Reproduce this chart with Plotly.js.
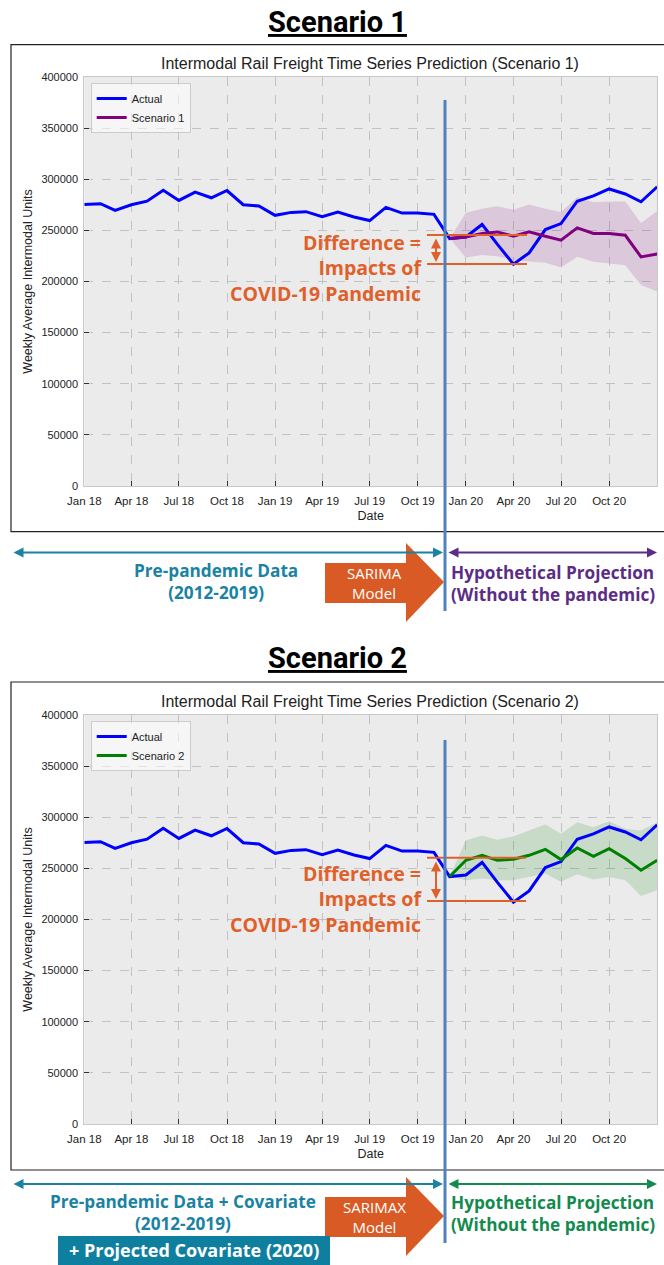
<!DOCTYPE html>
<html>
<head>
<meta charset="utf-8">
<script src="https://cdn.plot.ly/plotly-3.0.1.min.js"></script>
<style>
  html, body { margin: 0; padding: 0; background: #ffffff; }
  #chart { width: 664px; height: 1265px; }
</style>
</head>
<body>
<div id="chart"></div>
<script>
// ---------------- DATA ----------------
const actualDates = [
  '2018-01-01','2018-02-01','2018-03-01','2018-04-01','2018-05-01','2018-06-01',
  '2018-07-01','2018-08-01','2018-09-01','2018-10-01','2018-11-01','2018-12-01',
  '2019-01-01','2019-02-01','2019-03-01','2019-04-01','2019-05-01','2019-06-01',
  '2019-07-01','2019-08-01','2019-09-01','2019-10-01','2019-11-01','2019-12-01',
  '2020-01-01','2020-02-01','2020-03-01','2020-04-01','2020-05-01','2020-06-01',
  '2020-07-01','2020-08-01','2020-09-01','2020-10-01','2020-11-01','2020-12-01',
  '2021-01-01'
];
const actualValues = [
  275400, 276100, 269600, 275100, 278600, 289300, 279300, 287400, 281900, 289000, 275100, 273800,
  264700, 267600, 268300, 263400, 267900, 263100, 259600, 272500, 266900, 266900, 265700, 242000,
  243500, 255800, 236500, 217000, 228000, 250800, 256600, 278500, 283700, 290500, 285600, 278000,
  292600
];
const forecastDates = [
  '2019-12-01','2020-01-01','2020-02-01','2020-03-01','2020-04-01','2020-05-01','2020-06-01',
  '2020-07-01','2020-08-01','2020-09-01','2020-10-01','2020-11-01','2020-12-01','2021-01-01'
];
const scenario1 = [242000, 243500, 246900, 248500, 244300, 248500, 244300, 240400, 252400, 246900, 246900, 245200, 224100, 226800];
const scenario1Upper = [242000, 267300, 271200, 273500, 270200, 275400, 271200, 267900, 282500, 277600, 278300, 278300, 257200, 268900];
const scenario1Lower = [242000, 223500, 225800, 224800, 220900, 219300, 218300, 213800, 224100, 219300, 217700, 216000, 196600, 190100];
const scenario2 = [242000, 257900, 262800, 257900, 258900, 262800, 268600, 258600, 269900, 261800, 269300, 259600, 248200, 257900];
const scenario2Upper = [242000, 277400, 282200, 278000, 281300, 287100, 292900, 283900, 295200, 290300, 296100, 288700, 287100, 295200];
const scenario2Lower = [242000, 238400, 240100, 238400, 238400, 241600, 245000, 236800, 244300, 239100, 241600, 238400, 222900, 228700];

const tickDates = ['2018-01-01','2018-04-01','2018-07-01','2018-10-01','2019-01-01','2019-04-01',
                   '2019-07-01','2019-10-01','2020-01-01','2020-04-01','2020-07-01','2020-10-01'];
const tickLabels = ['Jan 18','Apr 18','Jul 18','Oct 18','Jan 19','Apr 19','Jul 19','Oct 19','Jan 20','Apr 20','Jul 20','Oct 20'];
const yTicks = [0, 50000, 100000, 150000, 200000, 250000, 300000, 350000, 400000];

// ---------------- GEOMETRY HELPERS ----------------
const W = 664, H = 1265;
const X = p => p / W;
const Y = p => 1 - p / H;
const OFF = 638; // vertical offset of second panel

const chartFont = 'Liberation Sans, Arial, sans-serif';
const titleFont = 'Roboto, Liberation Sans, Arial, sans-serif';
const boldFont = 'Open Sans, Roboto, Liberation Sans, sans-serif';

const ORANGE = '#e0602a';
const ARROW_ORANGE = '#d95a24';
const TEAL = '#1a82a2';
const PURPLE_TXT = '#5b2d86';
const GREEN_TXT = '#138a4e';
const VLINE = 'rgb(79,129,189)';

function bandTraces(xa, ya, lower, upper, fillcolor) {
  return [
    {x: forecastDates, y: lower, xaxis: xa, yaxis: ya, mode: 'lines', line: {width: 0, color: fillcolor},
     showlegend: false, hoverinfo: 'skip'},
    {x: forecastDates, y: upper, xaxis: xa, yaxis: ya, mode: 'lines', line: {width: 0, color: fillcolor},
     fill: 'tonexty', fillcolor: fillcolor, showlegend: false, hoverinfo: 'skip'}
  ];
}

const data = [
  ...bandTraces('x', 'y', scenario1Lower, scenario1Upper, 'rgba(128,0,128,0.15)'),
  {x: actualDates, y: actualValues, xaxis: 'x', yaxis: 'y', mode: 'lines', name: 'Actual',
   line: {color: '#0000ff', width: 3}, legend: 'legend'},
  {x: forecastDates, y: scenario1, xaxis: 'x', yaxis: 'y', mode: 'lines', name: 'Scenario 1',
   line: {color: '#800080', width: 3}, legend: 'legend'},
  ...bandTraces('x2', 'y2', scenario2Lower, scenario2Upper, 'rgba(0,128,0,0.15)'),
  {x: actualDates, y: actualValues, xaxis: 'x2', yaxis: 'y2', mode: 'lines', name: 'Actual',
   line: {color: '#0000ff', width: 3}, legend: 'legend2'},
  {x: forecastDates, y: scenario2, xaxis: 'x2', yaxis: 'y2', mode: 'lines', name: 'Scenario 2',
   line: {color: '#008000', width: 3}, legend: 'legend2'}
];

function xAxis(anchor) {
  return {
    type: 'date', domain: [X(84.3), X(657.2)], anchor: anchor,
    range: ['2018-01-01', '2021-01-01'],
    tickmode: 'array', tickvals: tickDates, ticktext: tickLabels,
    ticks: 'inside', ticklen: 5, tickwidth: 1, tickcolor: '#333',
    tickfont: {family: chartFont, size: 11.5, color: '#222'}, ticklabelstandoff: 4,
    showgrid: true, gridcolor: '#b8b8b8', griddash: 'dash', gridwidth: 0.8,
    showline: true, mirror: true, linecolor: '#c8c8c8', linewidth: 1,
    zeroline: false,
    title: {text: 'Date', font: {family: chartFont, size: 12.5, color: '#222'}, standoff: 5},
    fixedrange: true
  };
}
function yAxis(topPx, botPx, anchor) {
  return {
    domain: [Y(botPx), Y(topPx)], anchor: anchor,
    range: [0, 400000], tickmode: 'array', tickvals: yTicks, ticktext: yTicks.map(String),
    ticks: 'inside', ticklen: 5, tickwidth: 1, tickcolor: '#333',
    tickfont: {family: chartFont, size: 11, color: '#222'}, ticklabelstandoff: 3,
    showgrid: true, gridcolor: '#b8b8b8', griddash: 'dash', gridwidth: 0.8,
    showline: true, mirror: true, linecolor: '#c8c8c8', linewidth: 1,
    zeroline: false,
    title: {text: 'Weekly Average Intermodal Units', font: {family: chartFont, size: 12.5, color: '#222'}, standoff: 6},
    fixedrange: true
  };
}

function pathPoly(pts) {
  return 'M ' + pts.map(p => X(p[0]).toFixed(5) + ',' + Y(p[1]).toFixed(5)).join(' L ') + ' Z';
}

function arrowShape(top) {
  const rT = top + 20, rB = top + 60, hT = top, hB = top + 79, tip = top + 39;
  return {type: 'path', xref: 'paper', yref: 'paper', layer: 'above',
    path: pathPoly([[325, rT], [406, rT], [406, hT], [444, tip], [406, hB], [406, rB], [325, rB]]),
    fillcolor: ARROW_ORANGE, line: {width: 0}};
}

const shapes = [
  {type: 'rect', xref: 'paper', yref: 'paper', x0: X(11), x1: X(700), y0: Y(531.7), y1: Y(44.7),
   line: {color: '#222', width: 1.2}, fillcolor: 'rgba(0,0,0,0)', layer: 'below'},
  {type: 'rect', xref: 'paper', yref: 'paper', x0: X(11), x1: X(700), y0: Y(1170), y1: Y(682),
   line: {color: '#222', width: 1.2}, fillcolor: 'rgba(0,0,0,0)', layer: 'below'},
  {type: 'line', xref: 'paper', yref: 'paper', x0: X(427), x1: X(527), y0: Y(235), y1: Y(235), line: {color: ORANGE, width: 2}, layer: 'above'},
  {type: 'line', xref: 'paper', yref: 'paper', x0: X(427), x1: X(527), y0: Y(264), y1: Y(264), line: {color: ORANGE, width: 2}, layer: 'above'},
  {type: 'line', xref: 'paper', yref: 'paper', x0: X(427), x1: X(526), y0: Y(857.7), y1: Y(857.7), line: {color: ORANGE, width: 2}, layer: 'above'},
  {type: 'line', xref: 'paper', yref: 'paper', x0: X(427), x1: X(526), y0: Y(901), y1: Y(901), line: {color: ORANGE, width: 2}, layer: 'above'},
  arrowShape(543),
  arrowShape(1177),
  {type: 'rect', xref: 'paper', yref: 'paper', x0: X(58), x1: X(330), y0: Y(1266), y1: Y(1236),
   fillcolor: '#0f7fa0', line: {width: 0}, layer: 'above'},
  {type: 'line', xref: 'paper', yref: 'paper', x0: X(445), x1: X(445), y0: Y(100), y1: Y(611), line: {color: VLINE, width: 3}, layer: 'above'},
  {type: 'line', xref: 'paper', yref: 'paper', x0: X(445), x1: X(445), y0: Y(740), y1: Y(1243), line: {color: VLINE, width: 3}, layer: 'above'}
];

function hArrow(x1, x2, y, color) {
  return {xref: 'paper', yref: 'paper', x: X(x2), y: Y(y), ax: -(x2 - x1), ay: 0, axref: 'pixel', ayref: 'pixel',
    text: '', showarrow: true, arrowhead: 2, startarrowhead: 2, arrowside: 'end+start',
    arrowsize: 1, startarrowsize: 1, arrowwidth: 2, arrowcolor: color, standoff: 0, startstandoff: 0};
}
function vArrow(x, y1, y2, color) {
  return {xref: 'paper', yref: 'paper', x: X(x), y: Y(y2), ax: 0, ay: -(y2 - y1), axref: 'pixel', ayref: 'pixel',
    text: '', showarrow: true, arrowhead: 2, startarrowhead: 2, arrowside: 'end+start',
    arrowsize: 1, startarrowsize: 1, arrowwidth: 2, arrowcolor: color, standoff: 0, startstandoff: 0};
}
function txt(text, x, y, opts) {
  return Object.assign({xref: 'paper', yref: 'paper', x: X(x), y: Y(y), text: text, showarrow: false,
    xanchor: 'center', yanchor: 'middle'}, opts);
}

const diffFont = {family: boldFont, size: 19.5, color: ORANGE, weight: 700};
const labelFont = c => ({family: boldFont, size: 17.2, color: c, weight: 700});
const whiteFont = {family: boldFont, size: 15, color: '#ffffff', weight: 400};
const diffText = 'Difference =<br>Impacts of<br>COVID-19 Pandemic';

const annotations = [
  txt('Scenario 1', 337, 22, {font: {family: titleFont, size: 29, color: '#000', weight: 700, lineposition: 'under'}}),
  txt('Scenario 2', 337, 658, {font: {family: titleFont, size: 29, color: '#000', weight: 700, lineposition: 'under'}}),
  txt('Intermodal Rail Freight Time Series Prediction (Scenario 1)', 370, 63, {font: {family: chartFont, size: 16, color: '#222'}}),
  txt('Intermodal Rail Freight Time Series Prediction (Scenario 2)', 370, 63 + OFF, {font: {family: chartFont, size: 16, color: '#222'}}),
  txt(diffText, 424, 268, {xanchor: 'right', align: 'right', font: diffFont}),
  txt(diffText, 424, 899, {xanchor: 'right', align: 'right', font: diffFont}),
  vArrow(436, 237, 262, ORANGE),
  vArrow(436, 860, 899, ORANGE),
  hArrow(12, 443, 552.5, TEAL),
  hArrow(447, 657, 552.5, PURPLE_TXT),
  hArrow(12, 443, 1184, TEAL),
  hArrow(447, 657, 1184, GREEN_TXT),
  txt('Pre-pandemic Data<br>(2012-2019)', 216, 581.5, {font: labelFont(TEAL)}),
  txt('SARIMA<br>Model', 374, 582.5, {font: whiteFont}),
  txt('Hypothetical Projection<br>(Without the pandemic)', 449, 583, {xanchor: 'left', align: 'left', font: labelFont(PURPLE_TXT)}),
  txt('Pre-pandemic Data + Covariate<br>(2012-2019)', 183, 1212.5, {font: labelFont(TEAL)}),
  txt('+ Projected Covariate (2020)', 194, 1250, {font: {family: boldFont, size: 18, color: '#ffffff', weight: 700}}),
  txt('SARIMAX<br>Model', 374, 1216.5, {font: whiteFont}),
  txt('Hypothetical Projection<br>(Without the pandemic)', 449, 1213, {xanchor: 'left', align: 'left', font: labelFont(GREEN_TXT)})
];

const legendBase = {
  xanchor: 'left', yanchor: 'top', bgcolor: 'rgba(255,255,255,0.55)', bordercolor: '#cccccc', borderwidth: 1,
  font: {family: chartFont, size: 11, color: '#222'}, itemwidth: 30, tracegroupgap: 0, traceorder: 'normal'
};

const layout = {
  width: W, height: H,
  margin: {l: 0, r: 0, t: 0, b: 0},
  paper_bgcolor: '#ffffff', plot_bgcolor: '#ebebeb',
  showlegend: true,
  font: {family: chartFont},
  xaxis: xAxis('y'),
  yaxis: yAxis(77, 486, 'x'),
  xaxis2: xAxis('y2'),
  yaxis2: yAxis(77 + OFF, 486 + OFF, 'x2'),
  legend: Object.assign({x: X(90.7), y: Y(83)}, legendBase),
  legend2: Object.assign({x: X(90.7), y: Y(83 + OFF)}, legendBase),
  shapes: shapes,
  annotations: annotations
};

Plotly.newPlot('chart', data, layout, {staticPlot: true, displayModeBar: false});
</script>
</body>
</html>
